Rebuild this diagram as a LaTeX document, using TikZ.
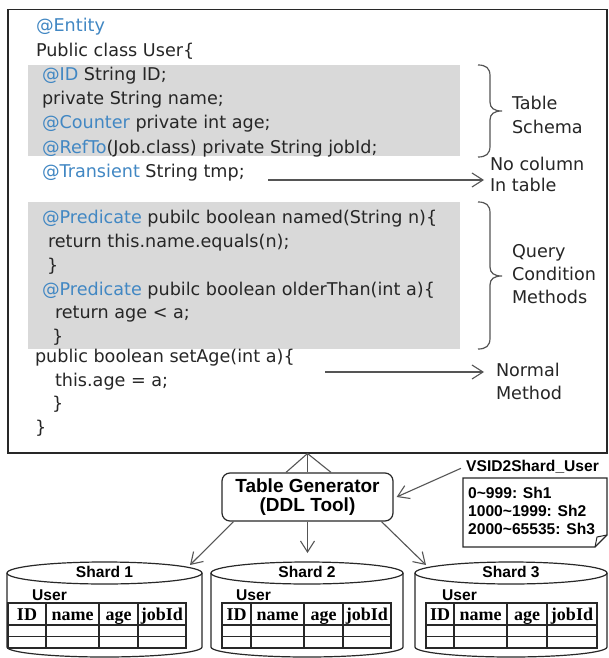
\documentclass[tikz,border=0pt]{standalone}
\usepackage{fontspec}
\usetikzlibrary{arrows.meta,calc}
\newfontfamily\codeff{DejaVu Sans}
\newfontfamily\boldff{Liberation Sans}
\newfontfamily\serifff{Liberation Serif}
\definecolor{annblue}{RGB}{65,135,195}
\definecolor{codecol}{RGB}{38,38,38}
\definecolor{graybg}{RGB}{217,217,217}
\definecolor{linecol}{RGB}{85,85,85}
\definecolor{darkline}{RGB}{40,40,40}
\newcommand\codefont{\codeff\fontsize{17.6}{20}\selectfont}
\newcommand\genfont{\boldff\bfseries\fontsize{19}{19.5}\selectfont}
\newcommand\smfont{\boldff\bfseries\fontsize{15.6}{18}\selectfont}
\newcommand\tabfont{\serifff\bfseries\fontsize{18}{18}\selectfont}
\newcommand\ann[1]{\textcolor{annblue}{#1}}
% #1 prefix, #2..#6 column x positions
\newcommand\usertable[6]{%
  \draw[tabline] (#2,603) rectangle (#6,648);
  \draw[tabline] (#2,625) -- (#6,625) (#2,636.5) -- (#6,636.5)
     (#3,603) -- (#3,648) (#4,603) -- (#4,648) (#5,603) -- (#5,648);
  \node[tabtxt] (#1id) at ({(#2+#3)/2},620) {ID};
  \node[tabtxt] (#1nm) at ({(#3+#4)/2},620) {name};
  \node[tabtxt] (#1ag) at ({(#4+#5)/2},620) {age};
  \node[tabtxt] (#1jb) at ({(#5+#6)/2},620) {jobId};
}
\begin{document}
\begin{tikzpicture}[x=1pt,y=-1pt,
  code/.style={anchor=base west, inner sep=0pt, outer sep=0pt, font=\codefont, text=codecol},
  graybox/.style={fill=graybg, draw=none, anchor=north west, inner sep=0pt},
  bracestyle/.style={draw=linecol, line width=1.2pt},
  arr/.style={draw=linecol, line width=1.1pt, -{Straight Barb[length=11pt,width=14pt]}},
  conn/.style={draw=linecol, line width=1.1pt},
  genbox/.style={draw=darkline, line width=1.2pt, rounded corners=8pt, minimum width=171pt,
     minimum height=48pt, align=center, font=\genfont, inner sep=0pt, text=black},
  cyl/.style={draw=darkline, line width=1.2pt},
  tabline/.style={draw=darkline, line width=1.1pt},
  tabtxt/.style={anchor=base, inner sep=0pt, font=\tabfont, text=black},
  smlbl/.style={anchor=base west, inner sep=0pt, font=\smfont, text=black},
  shlbl/.style={anchor=base, inner sep=0pt, font=\smfont, text=black}]
\useasboundingbox (0,0) rectangle (608,658);
\fill[white] (0,0) rectangle (608,658);

% class box
\node[draw=darkline, line width=1.5pt, minimum width=599pt, minimum height=443pt,
      anchor=north west, inner sep=0pt] (cls) at (7,9) {};
\node[graybox, minimum width=432pt, minimum height=91pt] (g1) at (28,65) {};
\node[graybox, minimum width=432pt, minimum height=147pt] (g2) at (28,202) {};

\node[code] (l1) at (36,32) {\ann{@Entity}};
\node[code] (l2) at (36,56.2) {Public class User\{};
\node[code] (l3) at (42,80.4) {\ann{@ID} String ID;};
\node[code] (l4) at (42,104.6) {private String name;};
\node[code] (l5) at (42,128.8) {\ann{@Counter} private int age;};
\node[code] (l6) at (42,153) {\ann{@RefTo}(Job.class) private String jobId;};
\node[code] (l7) at (42,177) {\ann{@Transient} String tmp;};
\node[code] (l8) at (42,223.4) {\ann{@Predicate} pubilc boolean named(String n)\{};
\node[code] (l9) at (48,247) {return this.name.equals(n);};
\node[code] (l10) at (47,271) {\}};
\node[code] (l11) at (42,295) {\ann{@Predicate} pubilc boolean olderThan(int a)\{};
\node[code] (l12) at (55,318.5) {return age < a;};
\node[code] (l13) at (52,342) {\}};
\node[code] (l14) at (35,362.5) {public boolean setAge(int a)\{};
\node[code] (l15) at (55,386) {this.age = a;};
\node[code] (l16) at (52,409.5) {\}};
\node[code] (l17) at (35,433.5) {\}};

% right labels
\node[code] (t1) at (512,110) {Table};
\node[code] (t2) at (512,133) {Schema};
\node[code] (n1) at (490,170) {No column};
\node[code] (n2) at (490,191) {In table};
\node[code] (q1) at (512,257) {Query};
\node[code] (q2) at (512,280) {Condition};
\node[code] (q3) at (512,303) {Methods};
\node[code] (m1) at (496,376) {Normal};
\node[code] (m2) at (496,399) {Method};

% braces
\draw[bracestyle] (478,65) .. controls (486,65) and (490,68) .. (490,76) -- (490,102)
  .. controls (490,108) and (494,111) .. (502,111)
  .. controls (494,111) and (490,114) .. (490,120) -- (490,146)
  .. controls (490,154) and (486,157) .. (478,157);
\draw[bracestyle] (478,202) .. controls (486,202) and (490,205) .. (490,213) -- (490,267)
  .. controls (490,273) and (494,276) .. (502,276)
  .. controls (494,276) and (490,279) .. (490,285) -- (490,338)
  .. controls (490,346) and (486,349) .. (478,349);

% arrows to labels
\coordinate (a1s) at (268,180);
\coordinate (a1e) at (484,180);
\draw[arr] (a1s) -- (a1e);
\coordinate (a2s) at (325,372);
\coordinate (a2e) at (484,372);
\draw[arr] (a2s) -- (a2e);

% generator
\node[genbox] (gen) at (307.5,497) {Table Generator\\(DDL Tool)};
\coordinate (apex) at (gen.north |- cls.south);
\draw[conn] ([xshift=-21.5pt]gen.north) -- (apex) -- ([xshift=23.5pt]gen.north);
\draw[conn] (gen.north) -- (apex);

% cylinders
\draw[cyl] (7,573) -- (7,647) arc[start angle=180,end angle=360,x radius=97.5pt,y radius=10pt] -- (202,573);
\draw[cyl] (104.5,573) ellipse [x radius=97.5pt, y radius=11pt];
\draw[cyl] (211,573) -- (211,647) arc[start angle=180,end angle=360,x radius=96pt,y radius=10pt] -- (403,573);
\draw[cyl] (307,573) ellipse [x radius=96pt, y radius=11pt];
\draw[cyl] (415,573) -- (415,647) arc[start angle=180,end angle=360,x radius=96pt,y radius=10pt] -- (607,573);
\draw[cyl] (511,573) ellipse [x radius=96pt, y radius=11pt];

\node[shlbl] (sh1) at (104.5,577) {Shard 1};
\node[shlbl] (sh2) at (307,577) {Shard 2};
\node[shlbl] (sh3) at (511,577) {Shard 3};
\node[smlbl] (u1) at (32,600) {User};
\node[smlbl] (u2) at (236,600) {User};
\node[smlbl] (u3) at (442,600) {User};

\usertable{ta}{8}{46}{99}{138}{186}
\usertable{tb}{222}{251}{304}{343}{391}
\usertable{tc}{426}{454}{507}{547}{597}

\coordinate (s1a) at (190,565);
\coordinate (s2a) at (307.5,553);
\coordinate (s3a) at (426,565);
\draw[arr] ([xshift=-74pt]gen.south) -- (s1a);
\draw[arr] (gen.south) -- (s2a);
\draw[arr] ([xshift=74pt]gen.south) -- (s3a);

% VSID note
\node[smlbl] (vsid) at (466,471) {VSID2Shard\_User};
\draw[darkline, line width=1.2pt] (463,478) -- (607,478) -- (607,535) -- (595,547) -- (463,547) -- cycle;
\draw[darkline, line width=1pt] (595,547) -- (597,537) -- (607,535);
\node[smlbl] (v1) at (468,498) {0\textasciitilde999: Sh1};
\node[smlbl] (v2) at (468,516) {1000\textasciitilde1999: Sh2};
\node[smlbl] (v3) at (468,534) {2000\textasciitilde65535: Sh3};
\draw[arr] ([xshift=-5pt,yshift=-2pt]vsid.west) -- ([xshift=3pt]gen.east);
\end{tikzpicture}
\end{document}
